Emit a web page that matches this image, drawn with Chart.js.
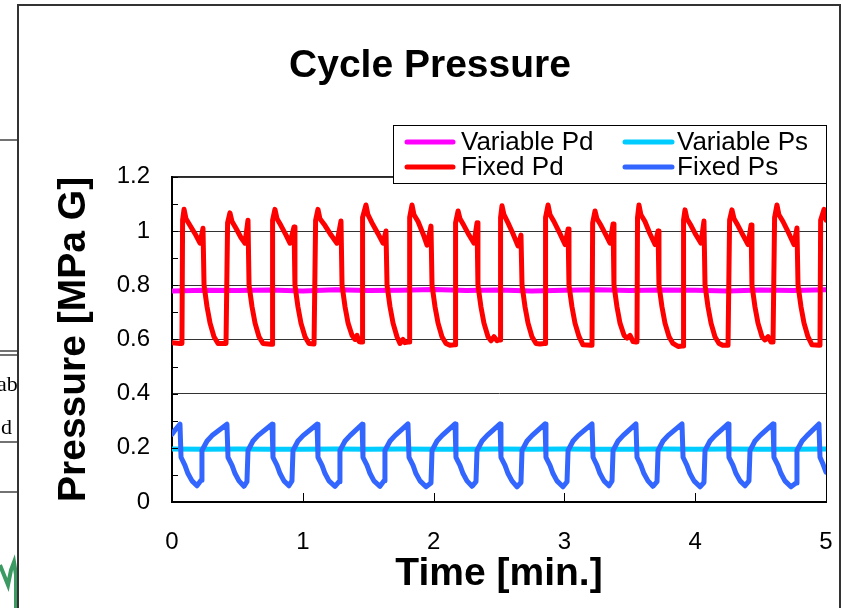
<!DOCTYPE html>
<html>
<head>
    <script src="https://cdn.jsdelivr.net/npm/chart.js@4/dist/chart.umd.min.js"></script>
    <style>
        body { margin: 0; background: #fff; }
    </style>
</head>
<body>
    <canvas id="myChart" width="843" height="608"></canvas>

    <script type="text/javascript">
        // values (time in minutes, pressure in MPa G)
        const fixedPdTime = [
            0, 0.061, 0.076, 0.081, 0.092, 0.107, 0.138, 0.176, 0.214, 0.237, 0.245, 0.268, 0.291, 0.321, 0.352, 0.413,
            0.420, 0.425, 0.443, 0.459, 0.489, 0.528, 0.558, 0.581, 0.589, 0.612, 0.635, 0.665, 0.696, 0.757,
            0.765, 0.769, 0.787, 0.803, 0.833, 0.872, 0.902, 0.933, 0.940, 0.963, 0.986, 1.017, 1.047, 1.086,
            1.093, 1.098, 1.116, 1.131, 1.170, 1.216, 1.261, 1.292, 1.300, 1.323, 1.346, 1.376, 1.399, 1.414, 1.430, 1.445,
            1.453, 1.457, 1.483, 1.498, 1.529, 1.575, 1.613, 1.636, 1.644, 1.667, 1.690, 1.720, 1.743, 1.766, 1.781, 1.804,
            1.812, 1.817, 1.835, 1.850, 1.881, 1.919, 1.950, 1.980, 1.988, 2.011, 2.034, 2.064, 2.095, 2.125, 2.156,
            2.164, 2.168, 2.187, 2.202, 2.232, 2.271, 2.309, 2.332, 2.339, 2.362, 2.385, 2.416, 2.439, 2.462, 2.485, 2.500,
            2.508, 2.512, 2.523, 2.538, 2.569, 2.607, 2.645, 2.668, 2.676, 2.699, 2.722, 2.752, 2.783, 2.813, 2.844,
            2.852, 2.856, 2.875, 2.890, 2.920, 2.966, 3.005, 3.028, 3.035, 3.058, 3.081, 3.112, 3.142, 3.203,
            3.211, 3.216, 3.234, 3.249, 3.280, 3.318, 3.349, 3.372, 3.379, 3.402, 3.425, 3.456, 3.479, 3.502, 3.525, 3.547,
            3.555, 3.559, 3.570, 3.585, 3.616, 3.654, 3.693, 3.716, 3.723, 3.746, 3.769, 3.800, 3.830, 3.869, 3.899,
            3.907, 3.911, 3.922, 3.937, 3.968, 4.006, 4.044, 4.067, 4.075, 4.098, 4.121, 4.151, 4.182, 4.213, 4.251,
            4.258, 4.263, 4.281, 4.297, 4.327, 4.365, 4.404, 4.427, 4.434, 4.457, 4.480, 4.511, 4.534, 4.557, 4.580, 4.595,
            4.602, 4.607, 4.625, 4.640, 4.671, 4.717, 4.755, 4.778, 4.786, 4.809, 4.832, 4.862, 4.893, 4.946,
            4.954, 4.959, 4.985, 5.0
        ];
        const fixedPd = [
            0.588, 0.585, 0.585, 1.04, 1.08, 1.045, 1.02, 0.99, 0.955, 1.01, 0.80, 0.72, 0.66, 0.61, 0.585, 0.585,
            0.585, 1.03, 1.067, 1.035, 1.01, 0.975, 0.955, 1.04, 0.80, 0.72, 0.66, 0.61, 0.585, 0.582,
            0.582, 1.04, 1.08, 1.045, 1.02, 0.985, 0.955, 1.015, 0.80, 0.72, 0.66, 0.61, 0.585, 0.583,
            0.583, 1.04, 1.08, 1.045, 1.02, 0.985, 0.955, 1.037, 0.80, 0.72, 0.66, 0.615, 0.60, 0.615, 0.592, 0.59,
            0.59, 1.05, 1.096, 1.06, 1.03, 0.99, 0.955, 1.0, 0.80, 0.72, 0.66, 0.61, 0.585, 0.60, 0.588, 0.59,
            0.59, 1.05, 1.096, 1.06, 1.035, 0.99, 0.948, 1.018, 0.80, 0.72, 0.66, 0.61, 0.585, 0.578, 0.58,
            0.58, 1.03, 1.074, 1.045, 1.02, 0.985, 0.955, 1.03, 0.80, 0.72, 0.66, 0.61, 0.595, 0.61, 0.595, 0.598,
            0.598, 1.05, 1.093, 1.06, 1.03, 0.99, 0.945, 0.985, 0.80, 0.72, 0.66, 0.61, 0.585, 0.583, 0.585,
            0.585, 1.05, 1.096, 1.06, 1.035, 0.99, 0.95, 1.007, 0.80, 0.72, 0.66, 0.61, 0.58, 0.578,
            0.578, 1.03, 1.074, 1.045, 1.02, 0.985, 0.955, 1.026, 0.80, 0.72, 0.66, 0.615, 0.605, 0.615, 0.592, 0.59,
            0.59, 1.05, 1.096, 1.06, 1.035, 0.99, 0.95, 1.0, 0.80, 0.72, 0.66, 0.61, 0.585, 0.574, 0.576,
            0.576, 1.04, 1.078, 1.045, 1.02, 0.985, 0.955, 1.037, 0.80, 0.72, 0.66, 0.61, 0.585, 0.578, 0.578,
            0.578, 1.04, 1.078, 1.045, 1.02, 0.985, 0.95, 1.022, 0.80, 0.72, 0.66, 0.61, 0.598, 0.61, 0.59, 0.59,
            0.59, 1.05, 1.096, 1.06, 1.035, 0.99, 0.95, 1.011, 0.80, 0.72, 0.66, 0.61, 0.58, 0.578,
            0.578, 1.04, 1.08, 1.04
        ];

        const fixedPsTime = [
            0, 0.031, 0.061,
            0.069, 0.099, 0.122, 0.153, 0.191, 0.222, 0.229, 0.268, 0.306, 0.420,
            0.428, 0.459, 0.482, 0.512, 0.550, 0.573, 0.581, 0.619, 0.657, 0.765,
            0.772, 0.803, 0.826, 0.856, 0.894, 0.917, 0.925, 0.963, 1.002, 1.109,
            1.116, 1.147, 1.170, 1.200, 1.246, 1.277, 1.284, 1.323, 1.361, 1.453,
            1.460, 1.491, 1.514, 1.544, 1.590, 1.621, 1.628, 1.667, 1.705, 1.804,
            1.812, 1.843, 1.865, 1.896, 1.942, 1.980, 1.988, 2.026, 2.064, 2.164,
            2.171, 2.202, 2.225, 2.255, 2.294, 2.324, 2.332, 2.370, 2.408, 2.508,
            2.515, 2.546, 2.569, 2.599, 2.638, 2.668, 2.676, 2.714, 2.752, 2.852,
            2.859, 2.890, 2.913, 2.943, 2.989, 3.020, 3.028, 3.066, 3.104, 3.211,
            3.219, 3.249, 3.272, 3.303, 3.341, 3.364, 3.372, 3.410, 3.448, 3.547,
            3.555, 3.585, 3.608, 3.639, 3.677, 3.708, 3.716, 3.754, 3.792, 3.899,
            3.907, 3.937, 3.960, 3.991, 4.037, 4.067, 4.075, 4.113, 4.151, 4.251,
            4.258, 4.289, 4.312, 4.343, 4.381, 4.411, 4.419, 4.457, 4.495, 4.595,
            4.602, 4.633, 4.656, 4.686, 4.732, 4.771, 4.778, 4.817, 4.855, 4.946,
            4.954, 4.977, 5.0
        ];
        const fixedPs = [
            0.25, 0.27, 0.287,
            0.165, 0.135, 0.105, 0.078, 0.06, 0.08, 0.19, 0.225, 0.245, 0.287,
            0.165, 0.135, 0.105, 0.078, 0.058, 0.075, 0.19, 0.225, 0.245, 0.287,
            0.165, 0.135, 0.105, 0.078, 0.06, 0.078, 0.19, 0.225, 0.245, 0.287,
            0.165, 0.135, 0.105, 0.078, 0.058, 0.075, 0.19, 0.225, 0.245, 0.287,
            0.165, 0.135, 0.105, 0.078, 0.058, 0.078, 0.19, 0.225, 0.245, 0.288,
            0.165, 0.135, 0.105, 0.078, 0.056, 0.07, 0.19, 0.225, 0.245, 0.288,
            0.165, 0.135, 0.105, 0.078, 0.058, 0.075, 0.19, 0.225, 0.245, 0.288,
            0.165, 0.135, 0.105, 0.078, 0.056, 0.072, 0.19, 0.225, 0.245, 0.288,
            0.165, 0.135, 0.105, 0.078, 0.056, 0.075, 0.19, 0.225, 0.245, 0.288,
            0.165, 0.135, 0.105, 0.078, 0.06, 0.078, 0.19, 0.225, 0.245, 0.288,
            0.165, 0.135, 0.105, 0.078, 0.058, 0.075, 0.19, 0.225, 0.245, 0.288,
            0.165, 0.135, 0.105, 0.078, 0.056, 0.072, 0.19, 0.225, 0.245, 0.288,
            0.165, 0.135, 0.105, 0.078, 0.06, 0.078, 0.19, 0.225, 0.245, 0.288,
            0.165, 0.135, 0.105, 0.078, 0.056, 0.07, 0.19, 0.225, 0.245, 0.288,
            0.165, 0.14, 0.11
        ];

        const variableTime = [0, 0.25, 0.5, 0.75, 1, 1.25, 1.5, 1.75, 2, 2.25, 2.5, 2.75, 3, 3.25, 3.5, 3.75, 4, 4.25, 4.5, 4.75, 5];
        const variablePd = [0.779, 0.781, 0.78, 0.782, 0.779, 0.783, 0.78, 0.781, 0.784, 0.78, 0.782, 0.779, 0.781, 0.783, 0.78, 0.782, 0.781, 0.779, 0.782, 0.78, 0.783];
        const variablePs = [0.196, 0.195, 0.196, 0.195, 0.195, 0.196, 0.195, 0.196, 0.195, 0.195, 0.196, 0.195, 0.196, 0.195, 0.195, 0.196, 0.195, 0.196, 0.195, 0.195, 0.196];

        const seriesNames = ['Variable Pd', 'Variable Ps', 'Fixed Pd', 'Fixed Ps'];
        const seriesColors = ['#ff00ff', '#00ccff', '#ff0000', '#3366ff'];

        const FONT = "'Liberation Sans', Arial, sans-serif";

        function toPoints(xs, ys) {
            return xs.map((x, i) => ({ x: x, y: ys[i] }));
        }

        function isEven(v) {
            return Math.round(v * 10) % 2 === 0;
        }

        // page frame and the bits of the neighbouring page on the left
        const framePlugin = {
            id: 'frame',
            beforeDraw(chart) {
                const ctx = chart.ctx;
                ctx.save();
                ctx.fillStyle = '#fff';
                ctx.fillRect(0, 0, chart.width, chart.height);

                ctx.strokeStyle = '#444';
                ctx.lineWidth = 1.5;
                ctx.beginPath();
                [140, 351, 355, 442, 492].forEach(y => {
                    ctx.moveTo(0, y); ctx.lineTo(18, y);
                });
                ctx.stroke();

                ctx.save();
                ctx.beginPath();
                ctx.rect(0, 0, 18, chart.height);
                ctx.clip();
                ctx.fillStyle = '#000';
                ctx.font = "22px 'Liberation Serif', 'Times New Roman', serif";
                ctx.textBaseline = 'alphabetic';
                ctx.fillText('ab', -3, 391);
                ctx.fillText('d', 1, 434);
                ctx.strokeStyle = '#3a9a62';
                ctx.lineWidth = 4;
                ctx.beginPath();
                ctx.moveTo(0, 565); ctx.lineTo(4, 575); ctx.lineTo(8, 585);
                ctx.lineTo(11, 570); ctx.lineTo(14, 562); ctx.lineTo(16, 575); ctx.lineTo(16, 608);
                ctx.stroke();
                ctx.restore();

                ctx.strokeStyle = '#333';
                ctx.lineWidth = 2;
                ctx.beginPath();
                ctx.moveTo(18, 608); ctx.lineTo(18, 5); ctx.lineTo(840, 5); ctx.lineTo(840, 608);
                ctx.stroke();
                ctx.restore();
            },
            afterDatasetsDraw(chart) {
                const ctx = chart.ctx;
                const area = chart.chartArea;
                const xs = chart.scales.x;
                const ys = chart.scales.y;
                ctx.save();
                ctx.strokeStyle = '#000';
                ctx.lineWidth = 1;
                ctx.beginPath();
                ctx.moveTo(area.left, area.top + 0.5); ctx.lineTo(area.right + 0.5, area.top + 0.5);
                ctx.lineTo(area.right + 0.5, area.bottom);
                // inward tick marks
                ys.ticks.forEach(t => {
                    const y = Math.round(ys.getPixelForValue(t.value)) + 0.5;
                    ctx.moveTo(area.left, y); ctx.lineTo(area.left + 6, y);
                });
                xs.ticks.forEach(t => {
                    const x = Math.round(xs.getPixelForValue(t.value)) + 0.5;
                    ctx.moveTo(x, area.bottom); ctx.lineTo(x, area.bottom - 9);
                });
                ctx.stroke();
                ctx.restore();
            },
            afterDraw(chart) {
                // boxed legend, two columns
                const ctx = chart.ctx;
                ctx.save();
                ctx.fillStyle = '#fff';
                ctx.fillRect(393, 125, 433, 58);
                ctx.strokeStyle = '#000';
                ctx.lineWidth = 1;
                ctx.strokeRect(393.5, 125.5, 433, 58);
                ctx.font = '26px ' + FONT;
                ctx.textBaseline = 'middle';
                ctx.lineCap = 'round';
                ctx.lineWidth = 5;
                const cols = [[407, 453, 461], [625, 672, 677]];
                const rows = [142, 167];
                const order = [[0, 1], [2, 3]];
                order.forEach((row, r) => {
                    row.forEach((idx, c) => {
                        const ds = chart.data.datasets[idx];
                        ctx.strokeStyle = ds.borderColor;
                        ctx.beginPath();
                        ctx.moveTo(cols[c][0], rows[r]); ctx.lineTo(cols[c][1], rows[r]);
                        ctx.stroke();
                        ctx.fillStyle = '#000';
                        ctx.fillText(ds.label, cols[c][2], rows[r] + 1);
                    });
                });
                ctx.restore();
            }
        };

        const lineStyle = {
            borderWidth: 5,
            pointRadius: 0,
            tension: 0,
            borderJoinStyle: 'round',
            borderCapStyle: 'round',
            fill: false
        };

        const data = {
            datasets: [
                Object.assign({ label: seriesNames[0], data: toPoints(variableTime, variablePd), borderColor: seriesColors[0], order: 2 }, lineStyle),
                Object.assign({ label: seriesNames[1], data: toPoints(variableTime, variablePs), borderColor: seriesColors[1], order: 2 }, lineStyle),
                Object.assign({ label: seriesNames[2], data: toPoints(fixedPdTime, fixedPd), borderColor: seriesColors[2], order: 1 }, lineStyle),
                Object.assign({ label: seriesNames[3], data: toPoints(fixedPsTime, fixedPs), borderColor: seriesColors[3], order: 1 }, lineStyle)
            ]
        };

        const config = {
            type: 'line',
            data: data,
            options: {
                responsive: false,
                animation: false,
                devicePixelRatio: 1,
                layout: { padding: { left: 34, right: 17, top: 0, bottom: 0 } },
                plugins: {
                    legend: { display: false },
                    tooltip: { enabled: false },
                    title: {
                        display: true,
                        text: 'Cycle Pressure',
                        color: '#000',
                        font: { family: FONT, size: 39, weight: 'bold' },
                        padding: { top: 43, bottom: 87 }
                    }
                },
                scales: {
                    x: {
                        type: 'linear',
                        min: 0,
                        max: 5,
                        afterFit: s => { s.height = 106; s.paddingLeft = 0; s.paddingRight = 0; },
                        grid: { display: false, drawTicks: false },
                        border: { display: true, color: '#000', width: 2 },
                        ticks: {
                            stepSize: 1,
                            color: '#000',
                            padding: 26,
                            maxRotation: 0,
                            font: { family: FONT, size: 24 }
                        },
                        title: {
                            display: true,
                            text: 'Time [min.]',
                            color: '#000',
                            font: { family: FONT, size: 39, weight: 'bold' },
                            padding: { top: 0, bottom: 10 }
                        }
                    },
                    y: {
                        min: 0,
                        max: 1.2,
                        afterFit: s => { s.width = 138; s.paddingTop = 0; s.paddingBottom = 0; },
                        grid: {
                            drawTicks: false,
                            color: ctx => (ctx.tick && isEven(ctx.tick.value)) ? '#333' : 'rgba(0,0,0,0)',
                            lineWidth: 1
                        },
                        border: { display: true, color: '#000', width: 2 },
                        ticks: {
                            stepSize: 0.1,
                            autoSkip: false,
                            color: '#000',
                            padding: 22,
                            font: { family: FONT, size: 24 },
                            callback: v => isEven(v) ? String(Math.round(v * 10) / 10) : ''
                        },
                        title: {
                            display: true,
                            text: 'Pressure [MPa G]',
                            color: '#000',
                            font: { family: FONT, size: 39, weight: 'bold' },
                            padding: { top: 17, bottom: 0 }
                        }
                    }
                }
            },
            plugins: [framePlugin]
        };

        const chart = new Chart(document.getElementById('myChart'), config);
    </script>
</body>
</html>
